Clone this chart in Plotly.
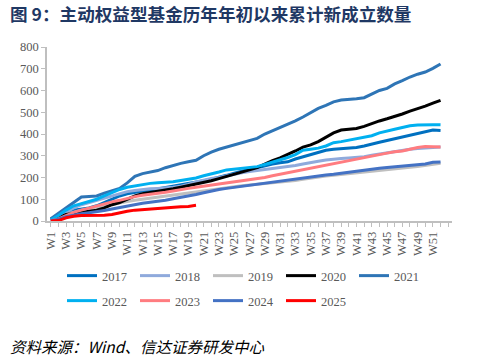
import plotly.graph_objects as go

weeks = list(range(1, 53))
tick_weeks = list(range(1, 53, 2))
tick_labels = ["W" + str(w) for w in tick_weeks]

y2017 = [10, 25, 40, 50, 55, 60, 70, 85, 100, 115, 125, 132, 138, 142, 148, 152, 158, 165, 172, 178,
         185, 192, 200, 210, 220, 230, 238, 245, 255, 262, 268, 272, 285, 295, 305, 315, 325, 330, 332, 333,
         338, 345, 355, 362, 370, 378, 388, 395, 402, 412, 418, 416]
y2018 = [5, 20, 40, 60, 75, 85, 95, 105, 115, 125, 135, 140, 145, 148, 150, 152, 155, 160, 168, 180,
         188, 195, 200, 208, 215, 222, 228, 232, 237, 240, 244, 248, 255, 262, 270, 275, 280, 285, 287, 290,
         292, 296, 302, 308, 315, 320, 325, 330, 333, 335, 338, 340]
y2019 = [5, 15, 30, 40, 50, 55, 62, 70, 78, 85, 90, 95, 100, 105, 110, 115, 120, 125, 130, 135,
         140, 145, 150, 155, 158, 162, 165, 168, 172, 175, 178, 182, 186, 192, 198, 203, 207, 210, 214, 218,
         222, 226, 230, 234, 237, 240, 243, 247, 250, 255, 262, 266]
y2020 = [5, 15, 30, 35, 40, 48, 50, 60, 75, 85, 100, 115, 125, 130, 135, 140, 148, 155, 162, 170,
         178, 185, 195, 205, 215, 225, 235, 245, 262, 278, 290, 305, 322, 340, 350, 365, 385, 405, 418, 420,
         425, 435, 448, 460, 470, 480, 492, 505, 515, 528, 542, 555]
y2021 = [10, 35, 60, 85, 110, 113, 115, 128, 140, 150, 175, 205, 218, 225, 232, 245, 256, 265, 272, 279,
         300, 317, 330, 340, 350, 362, 370, 380, 400, 415, 428, 445, 460, 478, 500, 518, 532, 548, 556, 558,
         562, 567, 585, 600, 610, 630, 645, 662, 675, 685, 702, 722]
y2022 = [5, 25, 50, 70, 80, 90, 100, 115, 130, 145, 155, 162, 168, 173, 176, 178, 180, 186, 192, 198,
         208, 215, 225, 235, 238, 242, 245, 250, 260, 270, 282, 292, 305, 325, 330, 335, 345, 360, 365, 372,
         378, 385, 392, 405, 415, 422, 430, 438, 441, 443, 443, 442]
y2023 = [0, 10, 25, 40, 50, 60, 70, 80, 88, 95, 105, 112, 118, 122, 128, 132, 138, 145, 150, 155,
         160, 165, 170, 175, 178, 182, 187, 192, 200, 208, 215, 222, 230, 238, 245, 252, 258, 265, 272, 278,
         285, 292, 298, 305, 312, 318, 322, 330, 338, 342, 340, 340]
y2024 = [0, 8, 20, 28, 33, 38, 42, 48, 55, 62, 70, 78, 82, 86, 90, 95, 102, 108, 115, 122,
         130, 138, 145, 150, 155, 160, 164, 168, 172, 177, 182, 187, 193, 198, 203, 208, 212, 215, 220, 225,
         230, 235, 240, 243, 246, 249, 252, 255, 258, 262, 270, 271]
y2025 = [0, 2, 15, 22, 25, 25, 25, 27, 30, 38, 45, 50, 53, 55, 57, 60, 63, 65, 67, 72]

series = [
    ("2017", y2017, "#0070C0", "legend"),
    ("2018", y2018, "#8FAADC", "legend"),
    ("2019", y2019, "#BFBFBF", "legend"),
    ("2020", y2020, "#000000", "legend"),
    ("2021", y2021, "#2E75B6", "legend"),
    ("2022", y2022, "#00B0F0", "legend2"),
    ("2023", y2023, "#FF7C80", "legend2"),
    ("2024", y2024, "#4472C4", "legend2"),
    ("2025", y2025, "#FF0000", "legend2"),
]

fig = go.Figure()
for name, ys, color, lg in series:
    fig.add_trace(go.Scatter(
        x=weeks[:len(ys)], y=ys, name=name, mode="lines",
        line=dict(color=color, width=3), legend=lg,
    ))

serif = "Liberation Serif"
legend_common = dict(
    orientation="h", xref="container", yref="container",
    x=62 / 479, xanchor="left", yanchor="middle",
    font=dict(family=serif, size=12.5, color="#595959"),
    entrywidth=28, entrywidthmode="pixels",
    bgcolor="rgba(0,0,0,0)", borderwidth=0, itemclick=False,
)

fig.update_layout(
    width=479, height=359,
    margin=dict(l=47, r=27, t=47, b=138, autoexpand=False),
    paper_bgcolor="white", plot_bgcolor="white",
    showlegend=True,
    legend=dict(legend_common, y=1 - 276 / 359),
    legend2=dict(legend_common, y=1 - 301 / 359),
    xaxis=dict(
        range=[0.5, 53.5], tickmode="array", tickvals=tick_weeks, ticktext=tick_labels,
        tickangle=-90, showgrid=False, zeroline=False,
        showline=True, linecolor="#BFBFBF", linewidth=1.5,
        ticks="outside", ticklen=4, tickcolor="#BFBFBF", tickwidth=1,
        minor=dict(dtick=1, tick0=0, ticks="outside", ticklen=4, tickcolor="#BFBFBF", tickwidth=1, showgrid=False),
        tickfont=dict(family=serif, size=12.5, color="#595959"),
    ),
    yaxis=dict(
        range=[0, 800], dtick=100, showgrid=False, zeroline=False,
        showline=True, linecolor="#BFBFBF", linewidth=1.5,
        ticks="outside", ticklen=4, tickcolor="#BFBFBF", tickwidth=1,
        tickfont=dict(family=serif, size=12.5, color="#595959"),
    ),
    annotations=[
        dict(text="<b>图 9：主动权益型基金历年年初以来累计新成立数量</b>",
             xref="paper", yref="paper", x=-39 / 405, y=1 + (47 - 14) / 174,
             xanchor="left", yanchor="middle",
             showarrow=False, font=dict(family="Noto Sans CJK SC", size=17.6, color="#1F3864")),
        dict(text="<i>资料来源：Wind、信达证券研发中心</i>",
             xref="paper", yref="paper", x=-39 / 405, y=-(346 - 220.7) / 174,
             xanchor="left", yanchor="middle",
             showarrow=False, font=dict(family="Noto Sans CJK SC", size=15.5, color="#000000")),
    ],
)

fig.write_html("out.html", config={"displayModeBar": False},
               post_script="document.body.style.margin='0';")
